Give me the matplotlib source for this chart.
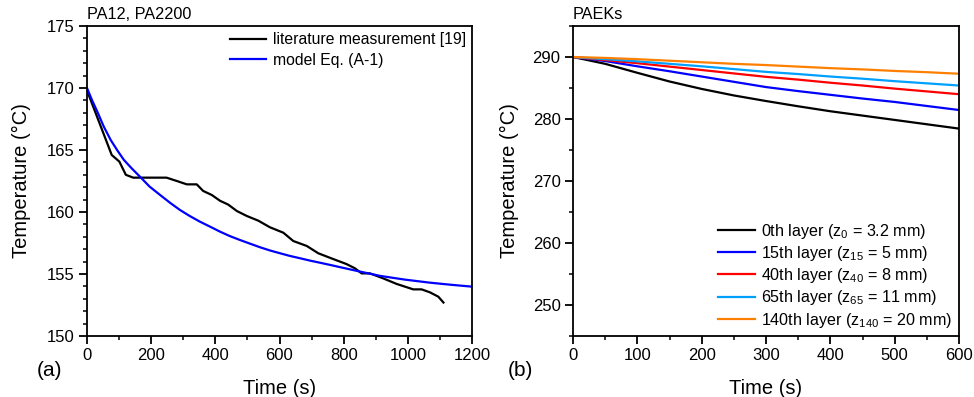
import matplotlib
matplotlib.use("Agg")
import matplotlib.pyplot as plt
from matplotlib.ticker import MultipleLocator

plt.rcParams['font.family'] = ['Liberation Sans', 'DejaVu Sans']
plt.rcParams['mathtext.fontset'] = 'custom'
plt.rcParams['mathtext.rm'] = 'Liberation Sans'
plt.rcParams['mathtext.it'] = 'Liberation Sans'

# ---- Panel (a) data: PA12, PA2200 ----
meas_t = [0, 77, 101, 121, 144, 248, 280, 311, 342, 362, 389, 415, 440, 467, 498,
          534, 570, 612, 643, 685, 721, 768, 809, 835, 856, 882, 923, 965, 1017,
          1043, 1069, 1095, 1111]
meas_T = [169.8, 164.6, 164.06, 163.0, 162.77, 162.77, 162.5, 162.23, 162.23, 161.7,
          161.37, 160.9, 160.6, 160.08, 159.68, 159.3, 158.77, 158.33, 157.66, 157.26,
          156.67, 156.2, 155.8, 155.46, 155.05, 155.05, 154.65, 154.2, 153.76, 153.76,
          153.52, 153.17, 152.7]
model_t = [0, 16, 32, 52, 74, 95, 115, 140, 165, 195, 228, 260, 290, 320, 352, 385,
           415, 445, 477, 510, 540, 570, 602, 632, 664, 695, 726, 760, 789, 850, 913,
           990, 1069, 1135, 1200]
model_T = [170.0, 169.0, 168.1, 166.9, 165.8, 164.95, 164.2, 163.5, 162.85, 162.05,
           161.37, 160.72, 160.16, 159.68, 159.22, 158.8, 158.41, 158.06, 157.74,
           157.43, 157.15, 156.9, 156.67, 156.46, 156.27, 156.08, 155.91, 155.72,
           155.55, 155.2, 154.85, 154.55, 154.3, 154.13, 153.98]

# ---- Panel (b) data: PAEKs ----
layer_t = [0, 50, 100, 150, 200, 250, 300, 350, 400, 450, 500, 550, 600]
layer_T = {
    'black': [290, 288.9, 287.45, 286.05, 284.85, 283.8, 282.9, 282.05, 281.25,
              280.55, 279.85, 279.15, 278.45],
    'blue': [290, 289.35, 288.5, 287.7, 286.85, 286.0, 285.15, 284.5, 283.9,
             283.3, 282.75, 282.1, 281.45],
    'red': [290, 289.5, 289.0, 288.45, 287.9, 287.35, 286.8, 286.35, 285.85,
            285.4, 284.9, 284.45, 284.0],
    'lightblue': [290, 289.65, 289.3, 288.9, 288.5, 288.05, 287.6, 287.25, 286.85,
                  286.5, 286.1, 285.75, 285.4],
    'orange': [290, 289.85, 289.65, 289.4, 289.15, 288.9, 288.7, 288.45, 288.2,
               288.0, 287.75, 287.55, 287.3],
}
layer_labels = [r'0th layer (z$_{0}$ = 3.2 mm)',
                r'15th layer (z$_{15}$ = 5 mm)',
                r'40th layer (z$_{40}$ = 8 mm)',
                r'65th layer (z$_{65}$ = 11 mm)',
                r'140th layer (z$_{140}$ = 20 mm)']
layer_colors = ['#000000', '#0000ff', '#ff0000', '#00a0ff', '#ff8000']

fig = plt.figure(figsize=(9.74, 3.97), dpi=100)
axa = fig.add_axes([87/974, 61/397, 385/974, 310/397])
axb = fig.add_axes([573/974, 61/397, 386/974, 310/397])

def style(ax):
    for s in ax.spines.values():
        s.set_linewidth(1.3)
    ax.tick_params(which='major', direction='out', length=6, width=1.3,
                   labelsize=12, pad=3)
    ax.tick_params(which='minor', direction='out', length=3, width=1.1)
    ax.tick_params(top=False, right=False)

axa.plot(meas_t, meas_T, color='black', lw=1.6, label='literature measurement [19]')
axa.plot(model_t, model_T, color='#0000ff', lw=1.6, label='model Eq. (A-1)')
axa.set_xlim(0, 1200)
axa.set_ylim(150, 175)
axa.xaxis.set_major_locator(MultipleLocator(200))
axa.xaxis.set_minor_locator(MultipleLocator(100))
axa.yaxis.set_major_locator(MultipleLocator(5))
axa.yaxis.set_minor_locator(MultipleLocator(1))
style(axa)
axa.set_xlabel('Time (s)', fontsize=14.5, labelpad=11)
axa.set_ylabel('Temperature (°C)', fontsize=14.5, labelpad=11)
axa.text(0.0, 1.012, 'PA12, PA2200', transform=axa.transAxes, fontsize=11.7,
         ha='left', va='bottom')
axa.legend(loc='upper right', frameon=False, fontsize=11.3, handlelength=2.3,
           handletextpad=0.4, borderaxespad=0.1, labelspacing=0.35,
           borderpad=0.3)
fig.text(50/974, 1 - 370/397, '(a)', fontsize=15, ha='center', va='center')

for lab, col, key in zip(layer_labels, layer_colors, layer_T):
    axb.plot(layer_t, layer_T[key], color=col, lw=1.6, label=lab)
axb.set_xlim(0, 600)
axb.set_ylim(245, 295)
axb.xaxis.set_major_locator(MultipleLocator(100))
axb.xaxis.set_minor_locator(MultipleLocator(50))
axb.yaxis.set_major_locator(MultipleLocator(10))
axb.yaxis.set_minor_locator(MultipleLocator(5))
axb.set_yticks([250, 260, 270, 280, 290])
style(axb)
axb.set_xlabel('Time (s)', fontsize=14.5, labelpad=11)
axb.set_ylabel('Temperature (°C)', fontsize=14.5, labelpad=10)
axb.text(0.0, 1.012, 'PAEKs', transform=axb.transAxes, fontsize=11.7,
         ha='left', va='bottom')
axb.legend(loc='lower right', frameon=False, fontsize=11.6, handlelength=2.3,
           handletextpad=0.4, borderaxespad=0.1, labelspacing=0.2,
           borderpad=0.3)
fig.text(520/974, 1 - 370/397, '(b)', fontsize=15, ha='center', va='center')

fig.savefig('out.png', dpi=100)
